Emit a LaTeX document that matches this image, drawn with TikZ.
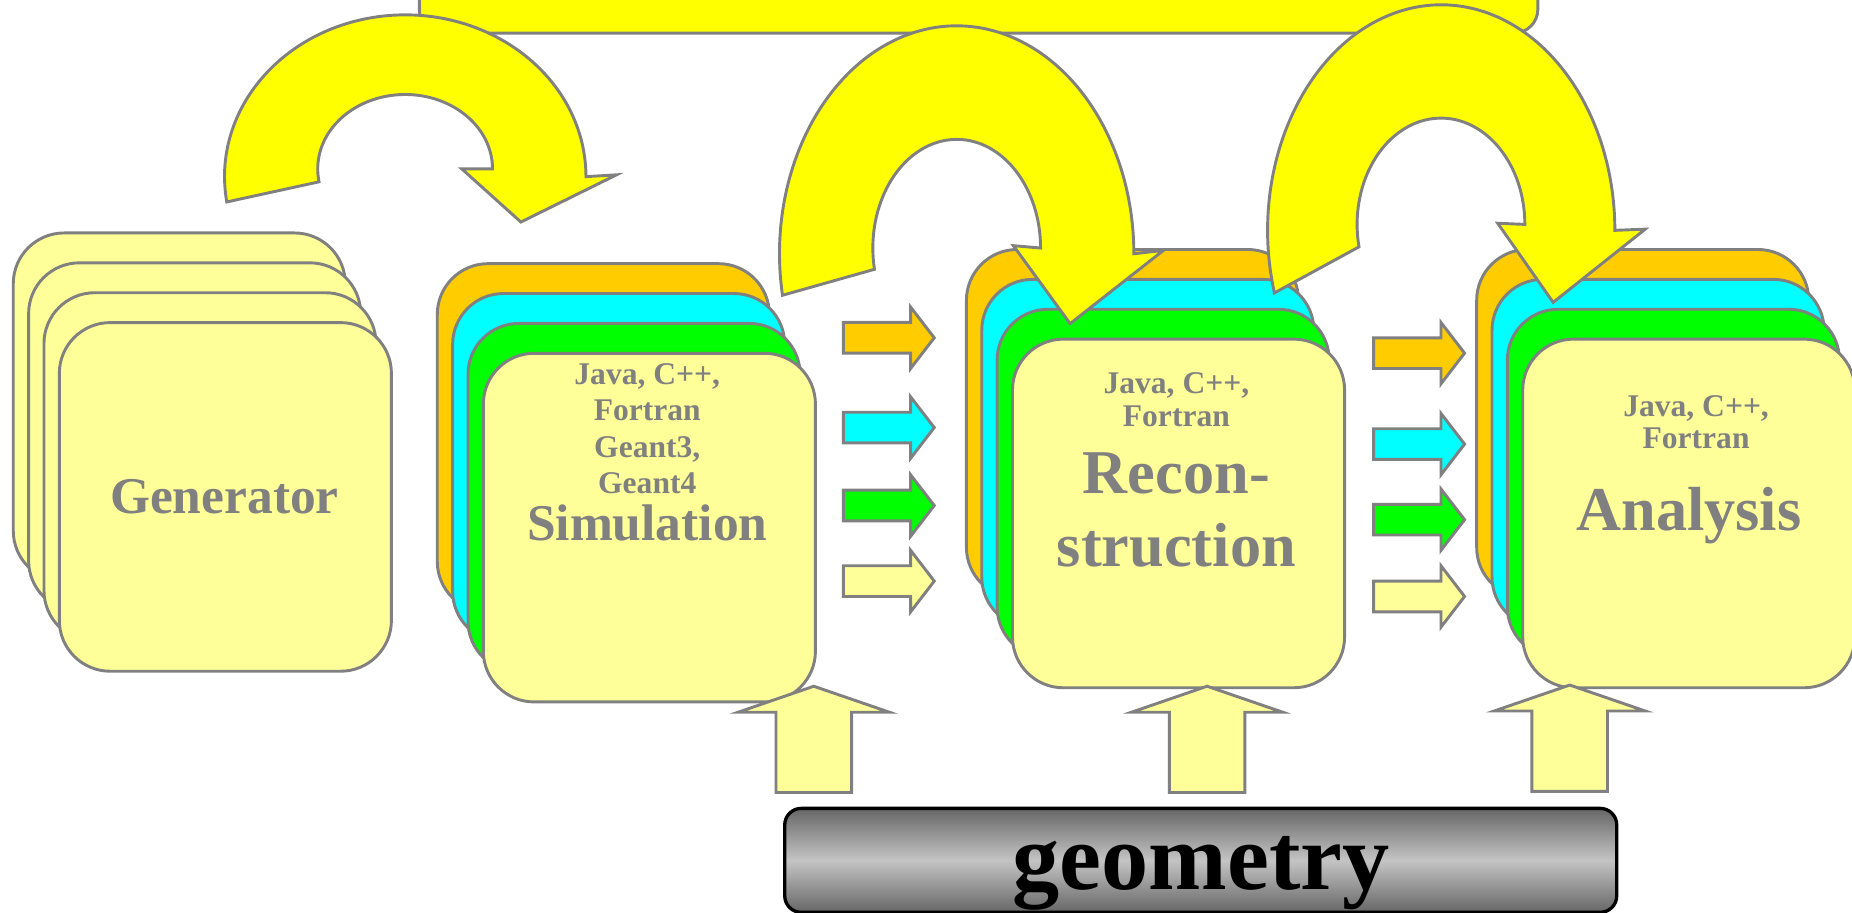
\documentclass[tikz,border=0pt]{standalone}
\usepackage{fontspec}
\setmainfont{Liberation Serif}
\definecolor{linegray}{HTML}{808080}
\definecolor{paleyellow}{HTML}{FFFF99}
\definecolor{brightyellow}{HTML}{FFFF00}
\definecolor{orangebox}{HTML}{FFCC00}
\definecolor{cyanbox}{HTML}{00FFFF}
\definecolor{greenbox}{HTML}{00FF00}
\definecolor{bardark}{HTML}{666666}
\definecolor{barlight}{HTML}{C4C4C4}
\tikzset{
  card/.style={draw=linegray, line width=0.7pt, rounded corners=0.43cm,
    minimum width=2.81cm, minimum height=2.95cm, inner sep=0pt, anchor=north west},
  turnarrow/.style={draw=linegray, line width=0.7pt, fill=brightyellow},
  block/.style={draw=linegray, line width=0.7pt},
  bar/.style={draw=black, line width=0.8pt, rounded corners=0.14cm,
    top color=bardark, bottom color=bardark, middle color=barlight,
    minimum width=7.04cm, minimum height=0.88cm, inner sep=0pt, anchor=north west},
  word/.style={text=linegray, anchor=base, align=center, inner sep=0pt},
  rblock/.pic={\draw[block, fill=#1] (0,-13) -- (57,-13) -- (57,-26) -- (77,0)
    -- (57,26) -- (57,13) -- (0,13) -- cycle;},
  ublock/.pic={\draw[block, fill=paleyellow] (0,0) -- (64,22) -- (32,22) -- (32,90)
    -- (-32,90) -- (-32,22) -- (-64,22) -- cycle;}
}
\begin{document}
\begin{tikzpicture}[x=0.01cm, y=-0.01cm]
  \useasboundingbox (0,0) rectangle (1568,773);
  \draw[turnarrow, rounded corners=0.2cm] (355,-40) rectangle (1302,28);

  \foreach \i in {0,...,3}
    \node[card, fill=paleyellow] (gen\i) at ({10+13*\i},{196+25.3*\i}) {};
  \foreach \col [count=\i from 0] in {orangebox,cyanbox,greenbox,paleyellow}
    \node[card, fill=\col] (sim\i) at ({369+13*\i},{222+25.3*\i}) {};
  \foreach \col [count=\i from 0] in {orangebox,cyanbox,greenbox,paleyellow}
    \node[card, fill=\col] (rec\i) at ({817+13*\i},{210+25.3*\i}) {};
  \foreach \col [count=\i from 0] in {orangebox,cyanbox,greenbox,paleyellow}
    \node[card, fill=\col] (ana\i) at ({1249+13*\i},{210+25.3*\i}) {};

  \node[word, font=\fontsize{12.4}{15}\selectfont\bfseries] (gentxt) at (190,435) {Generator};
  \node[word, font=\fontsize{7.6}{8.8}\selectfont\bfseries] (simlang) at (548,418) {Java, C++,\\Fortran\\Geant3,\\Geant4};
  \node[word, font=\fontsize{12.4}{15}\selectfont\bfseries] (simtxt) at (548,458) {Simulation};
  \node[word, font=\fontsize{7.6}{8}\selectfont\bfseries] (reclang) at (996,361) {Java, C++,\\Fortran};
  \node[word, font=\fontsize{15}{17.7}\selectfont\bfseries] (rectxt) at (996,480) {Recon-\\struction};
  \node[word, font=\fontsize{7.6}{7.7}\selectfont\bfseries] (analang) at (1436,380) {Java, C++,\\Fortran};
  \node[word, font=\fontsize{15}{17.7}\selectfont\bfseries] (anatxt) at (1430,449) {Analysis};

  \foreach \col/\y in {orangebox/286, cyanbox/362, greenbox/428, paleyellow/492}
    \pic at (714,\y) {rblock=\col};
  \foreach \col/\y in {orangebox/299, cyanbox/376, greenbox/440, paleyellow/505}
    \pic at (1163,\y) {rblock=\col};

  \draw[turnarrow] (192,171) arc[start angle=171, end angle=360, x radius=153, y radius=137]
    -- (522,148) -- (441,188) -- (391,143) -- (417,143)
    arc[start angle=0, end angle=-190, x radius=74, y radius=63] -- cycle;
  \draw[turnarrow] (662.5,250) arc[start angle=169.5, end angle=360, x radius=150, y radius=193]
    -- (985,212) -- (906,274) -- (858,208) -- (881,210)
    arc[start angle=0, end angle=-191.3, x radius=71, y radius=92] -- cycle;
  \draw[turnarrow] (1079,248) arc[start angle=163.9, end angle=360, x radius=147, y radius=191]
    -- (1393,194) -- (1315,256) -- (1268,189) -- (1291,190)
    arc[start angle=0, end angle=-192.2, x radius=71, y radius=90] -- cycle;

  \pic at (689,581) {ublock};
  \pic at (1022,581) {ublock};
  \pic at (1329,580) {ublock};

  \node[bar] (geom) at (663,683) {};
  \node[anchor=base, inner sep=0pt, font=\fontsize{22.7}{27}\selectfont\bfseries] (geomtxt) at (1017,753) {geometry};
\end{tikzpicture}
\end{document}
